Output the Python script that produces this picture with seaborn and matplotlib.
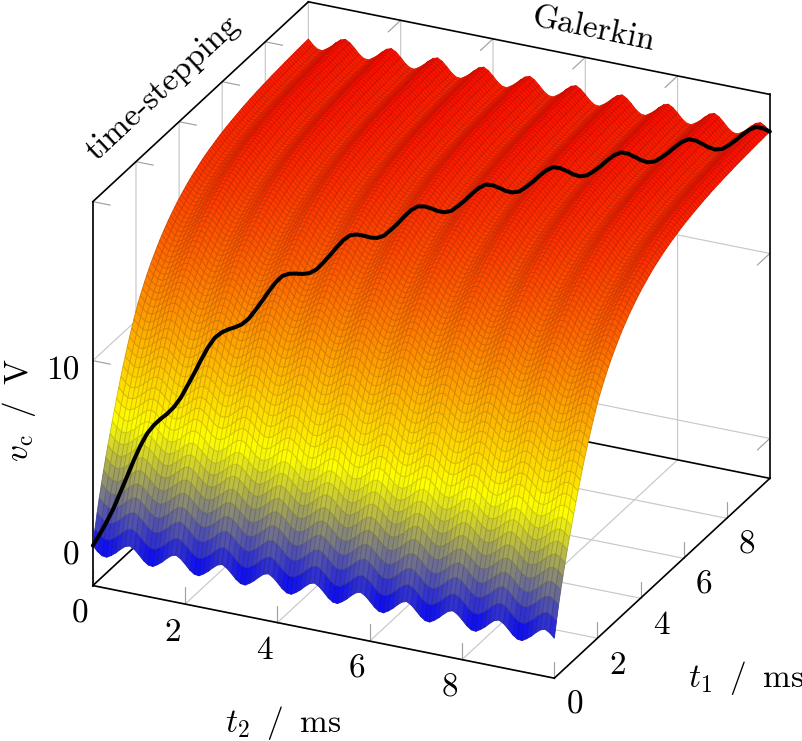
import numpy as np
import matplotlib
matplotlib.use("Agg")
import matplotlib.pyplot as plt
from matplotlib.colors import LinearSegmentedColormap, Normalize
from matplotlib.transforms import Affine2D
import seaborn as sns

# Profile of the capacitor voltage along t1 (one value every 0.1 ms)
envelope_v = [
 0.00,0.81,1.59,2.28,2.93,3.54,4.13,4.68,5.21,5.75,
 6.27,6.77,7.26,7.73,8.19,8.61,9.03,9.43,9.81,10.18,
 10.53,10.86,11.14,11.41,11.67,11.92,12.15,12.37,12.58,12.78,
 12.97,13.16,13.33,13.49,13.65,13.80,13.94,14.07,14.20,14.32,
 14.44,14.55,14.65,14.75,14.85,14.94,15.03,15.11,15.18,15.26,
 15.33,15.40,15.46,15.52,15.58,15.63,15.68,15.73,15.78,15.83,
 15.87,15.91,15.95,15.98,16.02,16.05,16.08,16.11,16.14,16.17,
 16.20,16.22,16.24,16.27,16.29,16.31,16.33,16.34,16.36,16.38,
 16.39,16.41,16.42,16.44,16.45,16.46,16.47,16.48,16.49,16.51,
 16.51,16.52,16.53,16.54,16.55,16.56,16.56,16.57,16.58,16.58,
 16.59]
# One 1 ms period of the ripple along t2 (one value every 0.1 ms)
ripple_v = [0.00,-0.27,-0.45,-0.48,-0.33,-0.14,0.10,0.30,0.38,0.24]
ripple_periods = 10
samples_per_ms = 10

t_ticks = [0, 2, 4, 6, 8]
v_ticks = [0, 10]
t_limits = (0, 10)
v_limits = (-2.16, 18.6)

color_levels = [0.0, 0.345, 1.0]
color_stops = ["#0000ff", "#ffff00", "#ff0000"]
color_range = (-0.5, 17.6)

sns.set_theme(style="white")
plt.rcParams.update({
    "font.family": ["cmr10", "DejaVu Serif"],
    "mathtext.fontset": "cm",
    "axes.formatter.use_mathtext": True,
    "axes.unicode_minus": False,
    "grid.color": "#c8c8c8",
    "grid.linewidth": 0.85,
    "font.size": 24,
    "text.color": "black",
    "axes.labelcolor": "black",
    "xtick.color": "black",
    "ytick.color": "black",
})

env = np.array(envelope_v)
rip = np.append(np.tile(ripple_v, ripple_periods), ripple_v[0])
t1 = np.arange(len(env)) / samples_per_ms
t2 = np.arange(len(rip)) / samples_per_ms
V = env[:, None] + rip[None, :]

W, H = 802, 741
S = 800
zoom = 812.9 / S
fig = plt.figure(figsize=(W / 100, H / 100), dpi=100)
ax = fig.add_axes([(431.35 - .5135 * S) / W, ((H - 340) - .5135 * S) / H, S / W, S / H],
                  projection="3d", proj_type="ortho", computed_zorder=False)
ax.view_init(elev=25.55, azim=-65.05)
ax.set_box_aspect((509, 511, 425.6), zoom=zoom)
ax.set_xlim(*t_limits, view_margin=0)
ax.set_ylim(*t_limits, view_margin=0)
ax.set_zlim(*v_limits, view_margin=0)

ax.patch.set_alpha(0)
for axis in (ax.xaxis, ax.yaxis, ax.zaxis):
    axis.set_pane_color((1, 1, 1, 0))
    axis.pane.set_edgecolor("none")
    axis.line.set_color("none")
    axis._axinfo["tick"]["inward_factor"] = 0
    axis._axinfo["tick"]["outward_factor"] = 0
ax.set_xticks(t_ticks)
ax.set_yticks(t_ticks)
ax.set_zticks(v_ticks)
ax.set_xticklabels([str(v) for v in t_ticks], va="center", color="black", fontsize=24)
ax.set_yticklabels([str(v) for v in t_ticks], va="center", color="black", fontsize=24)
ax.set_zticklabels([str(v) for v in v_ticks], va="center", ha="right", color="black", fontsize=24)
ax.zaxis.set_ticks_position("lower")
ax.zaxis.set_label_position("lower")
ax.tick_params(axis="both", color="none", pad=4)
ax.tick_params(axis="z", color="none", pad=2)
ax.grid(True)


def nudge(artist, dx, dy):
    """Shift a 3D axis text by (dx, dy) pixels at draw time."""
    plain_draw = artist.draw

    def shifted_draw(renderer):
        artist._transform = ax.transData + Affine2D().translate(dx, dy)
        plain_draw(renderer)

    artist.draw = shifted_draw


for tick in ax.xaxis.get_major_ticks():
    nudge(tick.label1, -4, -5)
for tick in ax.yaxis.get_major_ticks():
    nudge(tick.label1, 2, -8)
for tick in ax.zaxis.get_major_ticks():
    nudge(tick.label1, 9, -7)

# surface
cmap = LinearSegmentedColormap.from_list("vc", list(zip(color_levels, color_stops)))
norm = Normalize(*color_range)
Xg, Yg = np.meshgrid(t2, t1)
avg = (V[:-1, :-1] + V[1:, :-1] + V[:-1, 1:] + V[1:, 1:]) / 4
face = cmap(norm(avg))
surf = ax.plot_surface(Xg, Yg, V, rstride=1, cstride=1, facecolors=face,
                       shade=False, linewidth=0.6, antialiased=True, zorder=3)
edge = face.copy().reshape(-1, 4)
edge[:, :3] *= 0.82
surf.set_edgecolor(edge)

# box lines
x0, x1 = t_limits
y0, y1 = t_limits
z0, z1 = v_limits
box = [((x0, x1), (y0, y0), (z0, z0)), ((x1, x1), (y0, y1), (z0, z0)),
       ((x0, x1), (y1, y1), (z0, z0)), ((x0, x0), (y0, y1), (z0, z0)),
       ((x0, x0), (y0, y0), (z0, z1)), ((x1, x1), (y1, y1), (z0, z1)),
       ((x0, x0), (y0, y1), (z1, z1)), ((x0, x1), (y1, y1), (z1, z1))]
for bx, by, bz in box:
    ax.plot(bx, by, bz, color="black", lw=1.2, zorder=2, solid_capstyle="projecting")

# short inner tick marks
tick_col = "#a0a0a0"
tick_lw = 0.85
dz, dx, dy = 0.9, 0.376, 0.58
for t in t_ticks:
    ax.plot((t, t), (y0, y0), (z0, z0 + dz), color=tick_col, lw=tick_lw, zorder=1)
    ax.plot((t, t), (y1, y1 - dy), (z1, z1), color=tick_col, lw=tick_lw, zorder=1)
    ax.plot((x1, x1), (t, t), (z0, z0 + dz), color=tick_col, lw=tick_lw, zorder=1)
    ax.plot((x0, x0 + dx), (t, t), (z1, z1), color=tick_col, lw=tick_lw, zorder=1)
for v in v_ticks:
    ax.plot((x0, x0 + dx), (y0, y0), (v, v), color=tick_col, lw=tick_lw, zorder=1)
    ax.plot((x1, x1), (y1, y1 - dy), (v, v), color=tick_col, lw=tick_lw, zorder=1)

# time-stepping solution along the diagonal t1 = t2
diag = np.arange(min(V.shape))
ax.plot(t2[diag], t1[diag], V[diag, diag], color="black", lw=2.9, zorder=5,
        solid_capstyle="round", solid_joinstyle="round")

ax.set_xlabel(r"$t_2\,$ / $\,$ms", labelpad=26, fontsize=24, color="black")
ax.set_ylabel(r"$t_1\,$ / $\,$ms", labelpad=36, fontsize=24, color="black")
ax.set_zlabel(r"$v_{\mathrm{c}}\,$ / $\,$V", labelpad=8, fontsize=24, color="black")
for axis in (ax.xaxis, ax.yaxis, ax.zaxis):
    axis.set_rotate_label(False)
ax.xaxis.label.set_rotation(0)
ax.yaxis.label.set_rotation(0)
ax.zaxis.label.set_rotation(90)
nudge(ax.xaxis.label, -7, 0)
nudge(ax.yaxis.label, -4, -9)
nudge(ax.zaxis.label, -8, -6)

fig.text(163 / W, 1 - 88 / H, "time-stepping", rotation=43, ha="center", va="center",
         rotation_mode="anchor", fontsize=24, color="black")
fig.text(593 / W, 1 - 30 / H, "Galerkin", rotation=-11.7, ha="center", va="center",
         rotation_mode="anchor", fontsize=24, color="black")

fig.savefig("out.png", dpi=100, facecolor="white")
